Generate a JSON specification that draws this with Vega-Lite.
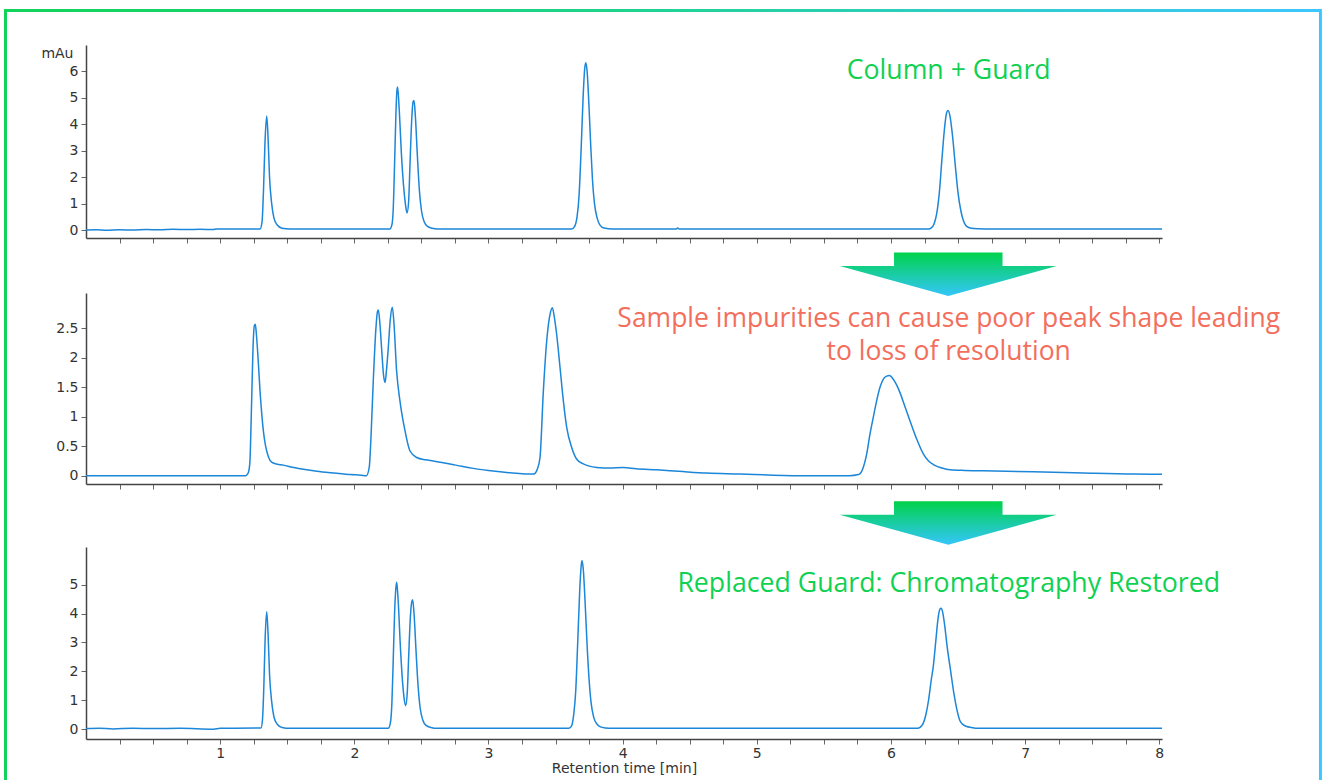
{
  "$schema": "https://vega.github.io/schema/vega-lite/v6.json",
  "usermeta": {"embedOptions": {"actions": false}},
  "padding": {"left": 4, "top": 8, "right": 0, "bottom": 0},
  "background": "white",
  "bounds": "flush",
  "spacing": 55,
  "config": {
    "view": {"stroke": null},
    "axis": {
      "grid": false,
      "domainColor": "#444444",
      "domainWidth": 1.5,
      "tickColor": "#666666",
      "tickSize": 5,
      "tickWidth": 1,
      "labelFont": "DejaVu Sans",
      "labelFontSize": 14,
      "labelColor": "#333333",
      "labelPadding": 3,
      "titleFont": "DejaVu Sans",
      "titleFontSize": 14,
      "titleFontWeight": "normal",
      "titleColor": "#333333"
    }
  },
  "datasets": {
    "top": [
      {"t": 0, "v": 0.0}, {"t": 0.08, "v": 0.01}, {"t": 0.15, "v": -0.01}, {"t": 0.25, "v": 0.01}, {"t": 0.35, "v": 0.0},
      {"t": 0.45, "v": 0.02}, {"t": 0.55, "v": 0.01}, {"t": 0.65, "v": 0.03}, {"t": 0.75, "v": 0.02}, {"t": 0.85, "v": 0.03},
      {"t": 0.95, "v": 0.02}, {"t": 0.97, "v": 0.04}, {"t": 1.1, "v": 0.04}, {"t": 1.297, "v": 0.04},
      {"t": 1.312, "v": 0.3}, {"t": 1.323, "v": 1.5}, {"t": 1.334, "v": 3.3}, {"t": 1.347, "v": 4.31}, {"t": 1.357, "v": 3.5},
      {"t": 1.368, "v": 2.0}, {"t": 1.384, "v": 1.0}, {"t": 1.401, "v": 0.45}, {"t": 1.424, "v": 0.2}, {"t": 1.461, "v": 0.07},
      {"t": 1.52, "v": 0.04}, {"t": 2.265, "v": 0.04}, {"t": 2.28, "v": 0.2}, {"t": 2.29, "v": 0.8}, {"t": 2.3, "v": 2.5},
      {"t": 2.31, "v": 4.4}, {"t": 2.318, "v": 5.3}, {"t": 2.323, "v": 5.41}, {"t": 2.333, "v": 4.7}, {"t": 2.353, "v": 2.7},
      {"t": 2.37, "v": 1.5}, {"t": 2.383, "v": 0.9}, {"t": 2.393, "v": 0.65}, {"t": 2.405, "v": 1.1}, {"t": 2.415, "v": 2.5},
      {"t": 2.427, "v": 4.1}, {"t": 2.438, "v": 4.85}, {"t": 2.445, "v": 4.9}, {"t": 2.455, "v": 4.3}, {"t": 2.47, "v": 2.8},
      {"t": 2.485, "v": 1.5}, {"t": 2.5, "v": 0.75}, {"t": 2.52, "v": 0.32}, {"t": 2.545, "v": 0.14}, {"t": 2.58, "v": 0.07},
      {"t": 2.62, "v": 0.04}, {"t": 3.62, "v": 0.04}, {"t": 3.64, "v": 0.12}, {"t": 3.66, "v": 0.5}, {"t": 3.675, "v": 1.3},
      {"t": 3.69, "v": 3.0}, {"t": 3.705, "v": 5.0}, {"t": 3.717, "v": 6.1}, {"t": 3.725, "v": 6.33}, {"t": 3.735, "v": 6.0},
      {"t": 3.748, "v": 4.8}, {"t": 3.762, "v": 3.2}, {"t": 3.775, "v": 1.9}, {"t": 3.79, "v": 1.0}, {"t": 3.81, "v": 0.45},
      {"t": 3.83, "v": 0.2}, {"t": 3.86, "v": 0.08}, {"t": 3.93, "v": 0.04}, {"t": 4.4, "v": 0.04}, {"t": 4.41, "v": 0.08},
      {"t": 4.42, "v": 0.04}, {"t": 6.28, "v": 0.04}, {"t": 6.3, "v": 0.08}, {"t": 6.32, "v": 0.22}, {"t": 6.34, "v": 0.6},
      {"t": 6.36, "v": 1.4}, {"t": 6.38, "v": 2.7}, {"t": 6.4, "v": 3.9}, {"t": 6.415, "v": 4.45}, {"t": 6.425, "v": 4.52},
      {"t": 6.44, "v": 4.3}, {"t": 6.46, "v": 3.5}, {"t": 6.48, "v": 2.4}, {"t": 6.5, "v": 1.4}, {"t": 6.52, "v": 0.75},
      {"t": 6.54, "v": 0.35}, {"t": 6.56, "v": 0.16}, {"t": 6.6, "v": 0.07}, {"t": 6.66, "v": 0.05}, {"t": 6.72, "v": 0.04},
      {"t": 8.02, "v": 0.04}
    ],
    "mid": [
      {"t": 0, "v": 0.0}, {"t": 1.19, "v": 0.0}, {"t": 1.205, "v": 0.03}, {"t": 1.215, "v": 0.1}, {"t": 1.222, "v": 0.25},
      {"t": 1.235, "v": 1.3}, {"t": 1.247, "v": 2.3}, {"t": 1.255, "v": 2.55}, {"t": 1.262, "v": 2.57}, {"t": 1.27, "v": 2.4},
      {"t": 1.285, "v": 1.9}, {"t": 1.297, "v": 1.44}, {"t": 1.31, "v": 1.05}, {"t": 1.322, "v": 0.76}, {"t": 1.335, "v": 0.55},
      {"t": 1.347, "v": 0.42}, {"t": 1.36, "v": 0.32}, {"t": 1.384, "v": 0.23}, {"t": 1.42, "v": 0.2}, {"t": 1.47, "v": 0.18},
      {"t": 1.55, "v": 0.14}, {"t": 1.62, "v": 0.11}, {"t": 1.72, "v": 0.075}, {"t": 1.82, "v": 0.05}, {"t": 1.92, "v": 0.03},
      {"t": 1.97, "v": 0.02}, {"t": 2.05, "v": 0.01}, {"t": 2.09, "v": 0.0}, {"t": 2.111, "v": 0.14}, {"t": 2.125, "v": 0.7},
      {"t": 2.141, "v": 1.6}, {"t": 2.161, "v": 2.5}, {"t": 2.172, "v": 2.78}, {"t": 2.179, "v": 2.81}, {"t": 2.19, "v": 2.6},
      {"t": 2.203, "v": 2.17}, {"t": 2.218, "v": 1.7}, {"t": 2.229, "v": 1.58}, {"t": 2.24, "v": 1.8}, {"t": 2.253, "v": 2.17},
      {"t": 2.268, "v": 2.65}, {"t": 2.283, "v": 2.86}, {"t": 2.295, "v": 2.6}, {"t": 2.315, "v": 1.78}, {"t": 2.34, "v": 1.27},
      {"t": 2.378, "v": 0.76}, {"t": 2.415, "v": 0.42}, {"t": 2.465, "v": 0.31}, {"t": 2.53, "v": 0.27}, {"t": 2.589, "v": 0.25},
      {"t": 2.64, "v": 0.23}, {"t": 2.713, "v": 0.2}, {"t": 2.8, "v": 0.16}, {"t": 2.887, "v": 0.125}, {"t": 3.0, "v": 0.09},
      {"t": 3.136, "v": 0.056}, {"t": 3.25, "v": 0.035}, {"t": 3.334, "v": 0.028}, {"t": 3.347, "v": 0.04}, {"t": 3.365, "v": 0.12},
      {"t": 3.384, "v": 0.31}, {"t": 3.409, "v": 1.44}, {"t": 3.434, "v": 2.29}, {"t": 3.459, "v": 2.74}, {"t": 3.476, "v": 2.85},
      {"t": 3.49, "v": 2.7}, {"t": 3.508, "v": 2.4}, {"t": 3.533, "v": 1.84}, {"t": 3.558, "v": 1.27}, {"t": 3.583, "v": 0.82},
      {"t": 3.62, "v": 0.48}, {"t": 3.658, "v": 0.28}, {"t": 3.707, "v": 0.2}, {"t": 3.807, "v": 0.14}, {"t": 3.9, "v": 0.13},
      {"t": 4.005, "v": 0.14}, {"t": 4.1, "v": 0.12}, {"t": 4.254, "v": 0.1}, {"t": 4.45, "v": 0.07}, {"t": 4.627, "v": 0.046},
      {"t": 4.875, "v": 0.03}, {"t": 5.123, "v": 0.01}, {"t": 5.372, "v": 0.0}, {"t": 5.69, "v": 0.0}, {"t": 5.757, "v": 0.02},
      {"t": 5.79, "v": 0.12}, {"t": 5.819, "v": 0.37}, {"t": 5.843, "v": 0.7}, {"t": 5.868, "v": 0.99}, {"t": 5.893, "v": 1.27},
      {"t": 5.918, "v": 1.5}, {"t": 5.943, "v": 1.64}, {"t": 5.968, "v": 1.69}, {"t": 5.988, "v": 1.7}, {"t": 6.01, "v": 1.66},
      {"t": 6.04, "v": 1.55}, {"t": 6.067, "v": 1.41}, {"t": 6.1, "v": 1.2}, {"t": 6.142, "v": 0.93}, {"t": 6.192, "v": 0.62},
      {"t": 6.241, "v": 0.37}, {"t": 6.28, "v": 0.25}, {"t": 6.316, "v": 0.19}, {"t": 6.38, "v": 0.13}, {"t": 6.44, "v": 0.1},
      {"t": 6.55, "v": 0.09}, {"t": 6.688, "v": 0.085}, {"t": 7.061, "v": 0.068}, {"t": 7.434, "v": 0.046}, {"t": 7.807, "v": 0.028},
      {"t": 8.02, "v": 0.025}
    ],
    "bot": [
      {"t": 0, "v": 0.02}, {"t": 0.1, "v": 0.03}, {"t": 0.2, "v": 0.01}, {"t": 0.35, "v": 0.03}, {"t": 0.5, "v": 0.02},
      {"t": 0.7, "v": 0.03}, {"t": 0.95, "v": 0.0}, {"t": 1.0, "v": 0.03}, {"t": 1.304, "v": 0.04}, {"t": 1.315, "v": 0.3},
      {"t": 1.325, "v": 1.4}, {"t": 1.335, "v": 3.1}, {"t": 1.347, "v": 4.06}, {"t": 1.357, "v": 3.3}, {"t": 1.368, "v": 1.9},
      {"t": 1.384, "v": 0.95}, {"t": 1.401, "v": 0.42}, {"t": 1.424, "v": 0.18}, {"t": 1.461, "v": 0.06}, {"t": 1.52, "v": 0.03},
      {"t": 2.253, "v": 0.03}, {"t": 2.268, "v": 0.2}, {"t": 2.28, "v": 0.9}, {"t": 2.29, "v": 2.4}, {"t": 2.3, "v": 4.0},
      {"t": 2.31, "v": 4.9}, {"t": 2.316, "v": 5.08}, {"t": 2.326, "v": 4.5}, {"t": 2.345, "v": 2.7}, {"t": 2.36, "v": 1.6},
      {"t": 2.373, "v": 1.0}, {"t": 2.383, "v": 0.81}, {"t": 2.395, "v": 1.3}, {"t": 2.405, "v": 2.5}, {"t": 2.418, "v": 3.9},
      {"t": 2.428, "v": 4.4}, {"t": 2.435, "v": 4.48}, {"t": 2.445, "v": 4.0}, {"t": 2.46, "v": 2.7}, {"t": 2.475, "v": 1.5},
      {"t": 2.49, "v": 0.75}, {"t": 2.51, "v": 0.32}, {"t": 2.535, "v": 0.13}, {"t": 2.57, "v": 0.06}, {"t": 2.62, "v": 0.03},
      {"t": 3.6, "v": 0.03}, {"t": 3.62, "v": 0.12}, {"t": 3.635, "v": 0.5}, {"t": 3.65, "v": 1.3}, {"t": 3.665, "v": 3.0},
      {"t": 3.68, "v": 4.8}, {"t": 3.69, "v": 5.6}, {"t": 3.697, "v": 5.83}, {"t": 3.707, "v": 5.5}, {"t": 3.72, "v": 4.4},
      {"t": 3.735, "v": 2.9}, {"t": 3.75, "v": 1.7}, {"t": 3.765, "v": 0.9}, {"t": 3.785, "v": 0.4}, {"t": 3.81, "v": 0.17},
      {"t": 3.84, "v": 0.07}, {"t": 3.9, "v": 0.03}, {"t": 6.2, "v": 0.03}, {"t": 6.216, "v": 0.06}, {"t": 6.24, "v": 0.2},
      {"t": 6.26, "v": 0.5}, {"t": 6.28, "v": 1.0}, {"t": 6.3, "v": 1.7}, {"t": 6.316, "v": 2.2}, {"t": 6.335, "v": 3.1},
      {"t": 6.35, "v": 3.8}, {"t": 6.365, "v": 4.15}, {"t": 6.373, "v": 4.18}, {"t": 6.385, "v": 4.05}, {"t": 6.4, "v": 3.6},
      {"t": 6.42, "v": 2.8}, {"t": 6.445, "v": 2.0}, {"t": 6.47, "v": 1.2}, {"t": 6.49, "v": 0.7}, {"t": 6.514, "v": 0.29},
      {"t": 6.54, "v": 0.15}, {"t": 6.564, "v": 0.09}, {"t": 6.6, "v": 0.06}, {"t": 6.64, "v": 0.03}, {"t": 8.02, "v": 0.03}
    ]
  },
  "vconcat": [
    {
      "width": 1076,
      "height": 193,
      "resolve": {"axis": {"x": "independent", "y": "independent"}},
      "layer": [
        {
          "data": {"name": "top"},
          "mark": {"type": "line", "color": "#1c86d8", "strokeWidth": 1.5, "interpolate": "monotone"},
          "encoding": {
            "x": {"field": "t", "type": "quantitative", "scale": {"domain": [0, 8.02], "nice": false, "zero": false},
              "axis": {"title": null, "labels": false, "values": [0.25,0.5,0.75,1,1.25,1.5,1.75,2,2.25,2.5,2.75,3,3.25,3.5,3.75,4,4.25,4.5,4.75,5,5.25,5.5,5.75,6,6.25,6.5,6.75,7,7.25,7.5,7.75,8]}},
            "y": {"field": "v", "type": "quantitative", "scale": {"domain": [-0.3, 7], "nice": false, "zero": false},
              "axis": {"values": [0,1,2,3,4,5,6], "format": "~g", "title": "mAu", "titleAngle": 0, "titleAlign": "right", "titleBaseline": "alphabetic", "titleX": -13, "titleY": 12.5, "titleFontSize": 14}}
          }
        },
        {
          "data": {"values": [{}]},
          "mark": {
            "type": "rect",
            "filled": false,
            "strokeWidth": 3,
            "stroke": {"gradient": "linear", "x1": 0, "y1": 0, "x2": 1, "y2": 0,
              "stops": [{"offset": 0, "color": "#12d35a"}, {"offset": 0.45, "color": "#1fd38a"}, {"offset": 1, "color": "#3dc7ff"}]}
          },
          "encoding": {
            "x": {"datum": -0.6, "type": "quantitative", "axis": null},
            "x2": {"datum": 9.201},
            "y": {"datum": 8.305, "type": "quantitative", "axis": null},
            "y2": {"datum": -21.2}
          }
        },
        {
          "data": {"values": [{"label": "Column + Guard"}]},
          "mark": {"type": "text", "font": "Open Sans", "fontSize": 26.7, "color": "#10d152", "align": "center", "baseline": "alphabetic"},
          "encoding": {
            "x": {"datum": 6.43, "type": "quantitative", "axis": null},
            "y": {"datum": 5.70, "type": "quantitative", "axis": null},
            "text": {"field": "label", "type": "nominal"}
          }
        },
        {
          "data": {"values": [{}]},
          "mark": {
            "type": "point",
            "shape": "M-0.5,-0.2L0.5,-0.2L0.5,-0.076L1,-0.076L0,0.2L-1,-0.076L-0.5,-0.076Z",
            "size": 47089,
            "filled": true,
            "opacity": 1,
            "strokeWidth": 0,
            "fill": {"gradient": "linear", "x1": 0, "y1": 0, "x2": 0, "y2": 1,
              "stops": [{"offset": 0, "color": "#00d24a"}, {"offset": 1, "color": "#34c6fb"}]}
          },
          "encoding": {
            "x": {"datum": 6.427, "type": "quantitative", "axis": null},
            "y": {"datum": -1.669, "type": "quantitative", "axis": null}
          }
        }
      ]
    },
    {
      "bounds": "flush",
      "spacing": 63,
      "vconcat": [
        {
          "width": 1076,
          "height": 191,
          "resolve": {"axis": {"x": "independent", "y": "independent"}},
          "layer": [
            {
              "data": {"name": "mid"},
              "mark": {"type": "line", "color": "#1c86d8", "strokeWidth": 1.5, "interpolate": "monotone"},
              "encoding": {
                "x": {"field": "t", "type": "quantitative", "scale": {"domain": [0, 8.02], "nice": false, "zero": false},
                  "axis": {"title": null, "labels": false, "values": [0.25,0.5,0.75,1,1.25,1.5,1.75,2,2.25,2.5,2.75,3,3.25,3.5,3.75,4,4.25,4.5,4.75,5,5.25,5.5,5.75,6,6.25,6.5,6.75,7,7.25,7.5,7.75,8]}},
                "y": {"field": "v", "type": "quantitative", "scale": {"domain": [-0.14, 3.1], "nice": false, "zero": false},
                  "axis": {"values": [0,0.5,1,1.5,2,2.5], "format": "~g", "title": null}}
              }
            },
            {
              "data": {"values": [{"label": ["Sample impurities can cause poor peak shape leading", "to loss of resolution"]}]},
              "mark": {"type": "text", "font": "Open Sans", "fontSize": 26.5, "lineHeight": 32.5, "color": "#f36e5c", "align": "center", "baseline": "alphabetic"},
              "encoding": {
                "x": {"datum": 6.43, "type": "quantitative", "axis": null},
                "y": {"datum": 2.523, "type": "quantitative", "axis": null},
                "text": {"field": "label", "type": "nominal"}
              }
            },
            {
              "data": {"values": [{}]},
              "mark": {
                "type": "point",
                "shape": "M-0.5,-0.2L0.5,-0.2L0.5,-0.076L1,-0.076L0,0.2L-1,-0.076L-0.5,-0.076Z",
                "size": 47089,
                "filled": true,
                "opacity": 1,
                "strokeWidth": 0,
                "fill": {"gradient": "linear", "x1": 0, "y1": 0, "x2": 0, "y2": 1,
                  "stops": [{"offset": 0, "color": "#00d24a"}, {"offset": 1, "color": "#34c6fb"}]}
              },
              "encoding": {
                "x": {"datum": 6.427, "type": "quantitative", "axis": null},
                "y": {"datum": -0.802, "type": "quantitative", "axis": null}
              }
            }
          ]
        },
        {
          "width": 1076,
          "height": 192,
          "resolve": {"axis": {"x": "independent", "y": "independent"}},
          "layer": [
            {
              "data": {"name": "bot"},
              "mark": {"type": "line", "color": "#1c86d8", "strokeWidth": 1.5, "interpolate": "monotone"},
              "encoding": {
                "x": {"field": "t", "type": "quantitative", "scale": {"domain": [0, 8.02], "nice": false, "zero": false},
                  "axis": {"title": "Retention time [min]", "titlePadding": 1, "labelPadding": 2, "labelFlush": false, "labelOverlap": false,
                    "labelExpr": "datum.value % 1 === 0 ? format(datum.value, 'd') : ''",
                    "values": [0.25,0.5,0.75,1,1.25,1.5,1.75,2,2.25,2.5,2.75,3,3.25,3.5,3.75,4,4.25,4.5,4.75,5,5.25,5.5,5.75,6,6.25,6.5,6.75,7,7.25,7.5,7.75,8]}},
                "y": {"field": "v", "type": "quantitative", "scale": {"domain": [-0.34, 6.3], "nice": false, "zero": false},
                  "axis": {"values": [0,1,2,3,4,5], "format": "~g", "title": null}}
              }
            },
            {
              "data": {"values": [{"label": "Replaced Guard: Chromatography Restored"}]},
              "mark": {"type": "text", "font": "Open Sans", "fontSize": 26.7, "color": "#10d152", "align": "center", "baseline": "alphabetic"},
              "encoding": {
                "x": {"datum": 6.43, "type": "quantitative", "axis": null},
                "y": {"datum": 4.744, "type": "quantitative", "axis": null},
                "text": {"field": "label", "type": "nominal"}
              }
            }
          ]
        }
      ]
    }
  ]
}
